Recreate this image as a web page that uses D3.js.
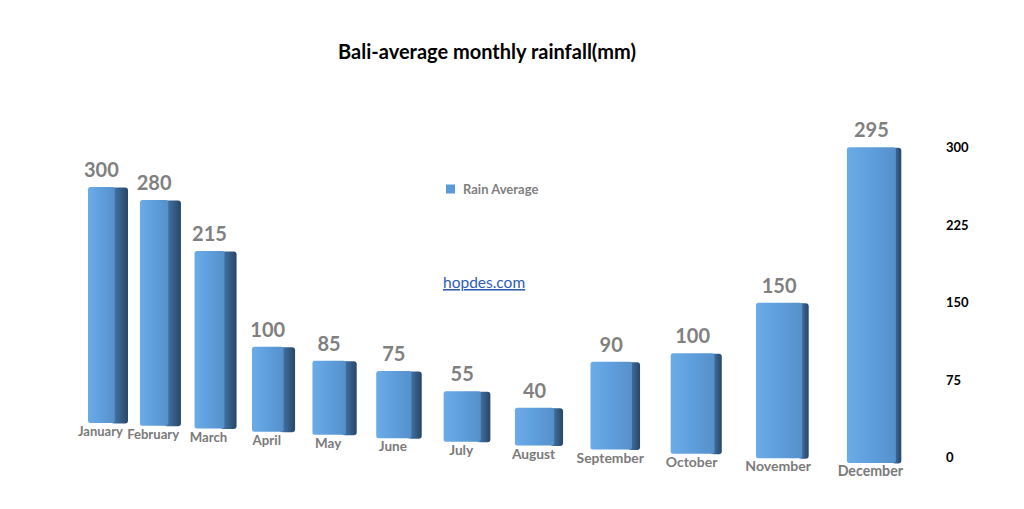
<!DOCTYPE html>
<html><head><meta charset="utf-8">
<script src="https://cdn.jsdelivr.net/npm/d3@7"></script>
<style>
html,body{margin:0;padding:0;background:#fff;}
svg{display:block;font-family:Lato,"Open Sans",sans-serif;}
</style></head>
<body>
<svg id="chart" width="1024" height="509"></svg>
<script>
const months = ["January","February","March","April","May","June","July","August","September","October","November","December"];
const rainfall = [300,280,215,100,85,75,55,40,90,100,150,295];
const axisTicks = [0,75,150,225,300];
const seriesName = "Rain Average";
const title = "Bali-average monthly rainfall(mm)";
const credit = "hopdes.com";

const svg = d3.select("#chart");
const defs = svg.append("defs");
const fg = defs.append("linearGradient").attr("id","front").attr("x1",0).attr("x2",1).attr("y1",0).attr("y2",0);
fg.append("stop").attr("offset",0).attr("stop-color","#6aabe8");
fg.append("stop").attr("offset",0.55).attr("stop-color","#5e9ddb");
fg.append("stop").attr("offset",1).attr("stop-color","#5590ca");
const sg = defs.append("linearGradient").attr("id","side").attr("x1",0).attr("x2",1).attr("y1",0).attr("y2",0);
sg.append("stop").attr("offset",0).attr("stop-color","#497db3");
sg.append("stop").attr("offset",1).attr("stop-color","#284666");

// perspective helpers built on d3 scales
const idx = d3.scaleOrdinal().domain(months).range(d3.range(months.length));
const persp = d3.scaleLinear().domain([0, 11]).range([1, 1 - 0.0241*11]); // denominator
const p = m => 1 / persp(idx(m));
const xWorld = d3.scaleLinear().domain([0, 11]).range([0, 557.7]);
const x0 = 88;
const xLeft = m => x0 + xWorld(idx(m)) * p(m);
const width = m => 40 * p(m);
const sideFrac = d3.scaleLinear().domain([0, 11]).range([0.33, 0.10]);
const baseY = m => 423 + 111 * (p(m) - 1);
const hVal = d3.scaleLinear().domain([0, 300]).range([0, 236]);
const labelSize = d3.scaleLinear().domain([0, 11]).range([13, 14.2]);

const data = months.map((m,i)=>({month:m, value:rainfall[i]}));

const g = svg.append("g");
const bars = g.selectAll("g.bar").data(data).join("g").attr("class","bar");
bars.each(function(d){
  const sel = d3.select(this);
  const L = xLeft(d.month), W = width(d.month);
  const sw = W * sideFrac(idx(d.month));
  const fw = W - sw;
  const b = baseY(d.month);
  const h = hVal(d.value) * p(d.month);
  const t = b - h;
  sel.append("rect").attr("x", L + fw - 4).attr("y", t + 0.5).attr("width", sw + 4).attr("height", h)
    .attr("rx", 3).attr("fill","url(#side)");
  sel.append("rect").attr("x", L).attr("y", t).attr("width", fw).attr("height", h)
    .attr("rx", 2.5).attr("fill","url(#front)");
  sel.append("text").attr("x", L + fw/2).attr("y", t - 10).attr("text-anchor","middle")
    .attr("font-size", 20).attr("font-weight", 700).attr("fill","#808080").text(d.value);
  sel.append("text").attr("x", L + fw/2 - 1).attr("y", b + 13).attr("text-anchor","middle")
    .attr("font-size", labelSize(idx(d.month))).attr("font-weight", 700).attr("fill","#7a7a7a").text(d.month);
});

// right value axis
const yAxis = d3.scaleLinear().domain([0,300]).range([457.5,147.5]);
const ax = svg.append("g").attr("transform","translate(946,0)")
  .call(d3.axisRight(yAxis).tickValues(axisTicks).tickSize(0).tickPadding(0));
ax.select(".domain").remove();
ax.selectAll("text").attr("font-size",13).attr("font-weight",700).attr("fill","#000")
  .attr("font-family","Lato,'Open Sans',sans-serif").attr("text-anchor","start");

// title
svg.append("text").attr("x", 487).attr("y", 59).attr("text-anchor","middle")
  .attr("font-size", 20).attr("font-weight", 700).attr("fill","#000").text(title);

// legend
svg.append("rect").attr("x",446).attr("y",184.5).attr("width",9).attr("height",9).attr("fill","#5b9bd5");
svg.append("text").attr("x",463).attr("y",193.5).attr("font-size",13).attr("font-weight",700).attr("fill","#7f7f7f").text(seriesName);

// credit link
svg.append("text").attr("x",443).attr("y",288).attr("font-size",15.5).attr("fill","#2d5cb3")
  .attr("text-decoration","underline").text(credit);
</script>
</body></html>
